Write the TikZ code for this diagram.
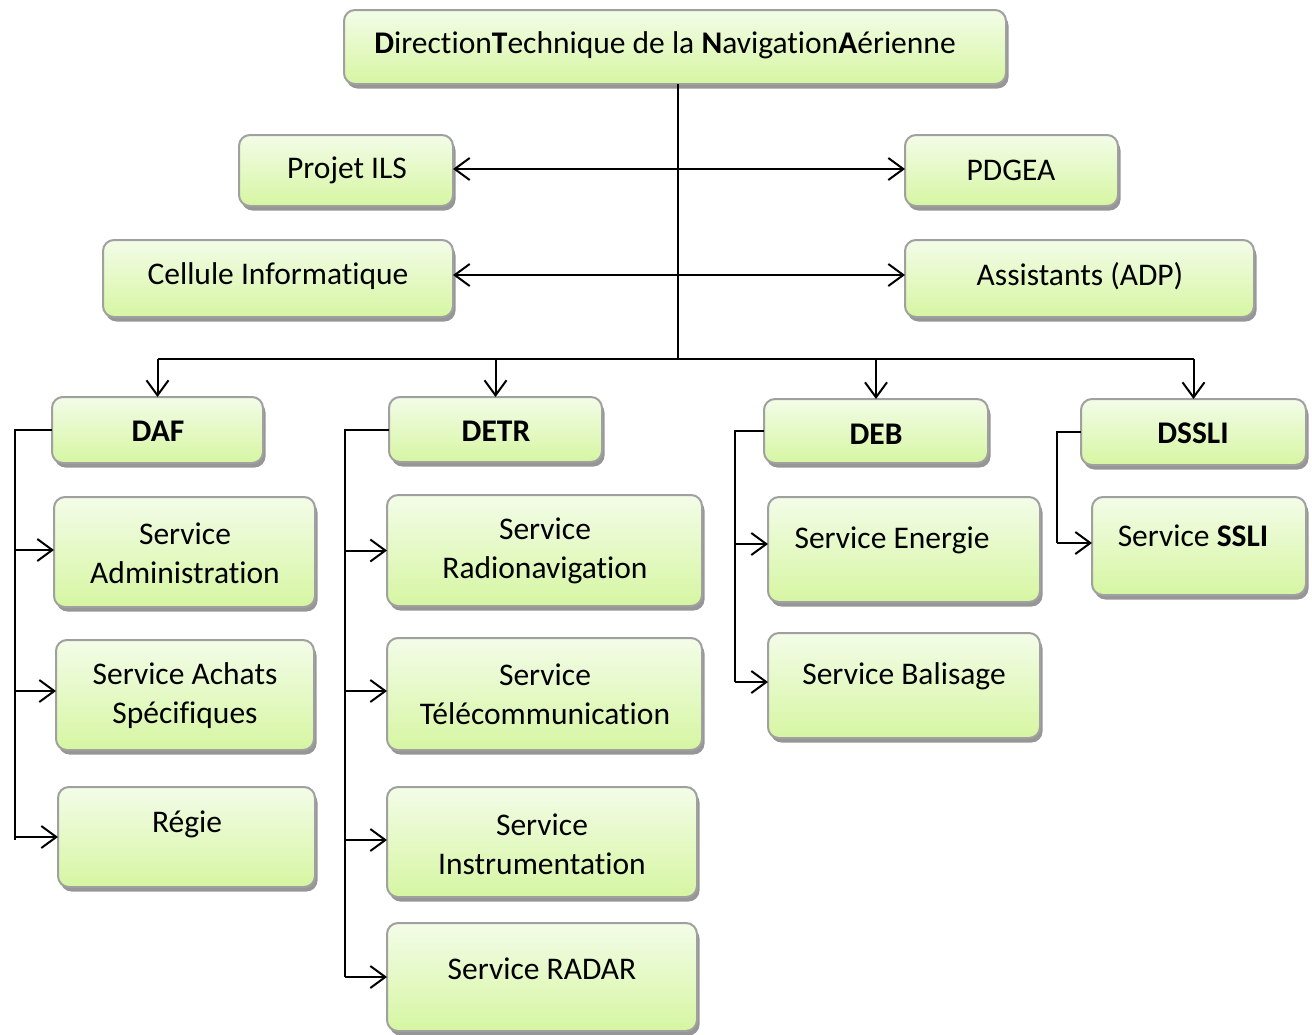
\documentclass[tikz,border=0pt]{standalone}
\usepackage{fontspec}
\setmainfont[Ligatures=NoCommon]{Carlito}
\usetikzlibrary{arrows.meta,shadows}

\definecolor{boxtop}{RGB}{243,252,232}
\definecolor{boxbot}{RGB}{214,246,162}
\definecolor{boxline}{RGB}{160,160,160}
\definecolor{boxshadow}{RGB}{150,150,150}

\begin{document}
\begin{tikzpicture}[x=1pt,y=-1pt,
  box/.style={draw=boxline, line width=2pt, rounded corners=11pt,
    top color=boxtop, bottom color=boxbot, anchor=north west,
    inner sep=0pt, outer sep=0pt,
    drop shadow={shadow xshift=2.5pt, shadow yshift=-4.5pt, fill=boxshadow, opacity=1}},
  lbl/.style={align=center, inner sep=0pt, font=\fontsize{31.5}{39}\selectfont},
  link/.style={line width=2pt, black},
  arr/.style={link, -{Straight Barb[length=15pt,width=22pt,line width=2pt]}},
  darr/.style={link, {Straight Barb[length=15pt,width=22pt,line width=2pt]}-{Straight Barb[length=15pt,width=22pt,line width=2pt]}}
]
\useasboundingbox (0,0) rectangle (1312,1034);

% ---- boxes ----
\node[box, minimum width=662pt, minimum height=74pt] (dtna) at (344,10) {};
\node[box, minimum width=214pt, minimum height=71pt] (ils) at (239,135) {};
\node[box, minimum width=213pt, minimum height=71pt] (pdgea) at (905,135) {};
\node[box, minimum width=350pt, minimum height=77pt] (cell) at (103,240) {};
\node[box, minimum width=349pt, minimum height=77pt] (adp) at (905,240) {};

\node[box, minimum width=211pt, minimum height=66pt] (daf) at (52,397) {};
\node[box, minimum width=213pt, minimum height=65pt] (detr) at (389,397) {};
\node[box, minimum width=224pt, minimum height=64pt] (deb) at (764,399) {};
\node[box, minimum width=225pt, minimum height=66pt] (dssli) at (1081,399) {};

\node[box, minimum width=261pt, minimum height=110pt] (adm) at (54,497) {};
\node[box, minimum width=258pt, minimum height=110pt] (ach) at (56,640) {};
\node[box, minimum width=257pt, minimum height=100pt] (reg) at (58,787) {};

\node[box, minimum width=315pt, minimum height=111pt] (rad) at (387,495) {};
\node[box, minimum width=315pt, minimum height=112pt] (tel) at (387,638) {};
\node[box, minimum width=310pt, minimum height=110pt] (ins) at (387,787) {};
\node[box, minimum width=310pt, minimum height=108pt] (radar) at (387,923) {};

\node[box, minimum width=272pt, minimum height=105pt] (ene) at (768,497) {};
\node[box, minimum width=272pt, minimum height=105pt] (bal) at (768,633) {};

\node[box, minimum width=214pt, minimum height=98pt] (sslib) at (1092,497) {};

% ---- texts ----
\node[lbl] (t-dtna) at (665,45) {\textbf{D}irection\textbf{T}echnique de la \textbf{N}avigation\textbf{A}érienne};
\node[lbl] (t-ils) at (347,170) {Projet ILS};
\node[lbl] (t-pdgea) at (1011,170) {PDGEA};
\node[lbl] (t-cell) at (278,276) {Cellule Informatique};
\node[lbl] (t-adp) at (1080,276) {Assistants (ADP)};

\node[lbl] (t-daf) at (158,431) {\textbf{DAF}};
\node[lbl] (t-detr) at (496,431) {\textbf{DETR}};
\node[lbl] (t-deb) at (876,434) {\textbf{DEB}};
\node[lbl] (t-dssli) at (1193,433) {\textbf{DSSLI}};

\node[lbl] (t-adm) at (185,553) {Service\\Administration};
\node[lbl] (t-ach) at (185,696) {Service Achats\\Spécifiques};
\node[lbl] (t-reg) at (187,824) {Régie};

\node[lbl] (t-rad) at (545,551) {Service\\Radionavigation};
\node[lbl] (t-tel) at (545,694) {Service\\Télécommunication};
\node[lbl] (t-ins) at (542,844) {Service\\Instrumentation};
\node[lbl] (t-radar) at (542,969) {Service RADAR};

\node[lbl] (t-ene) at (892,540) {Service Energie};
\node[lbl] (t-bal) at (904,676) {Service Balisage};
\node[lbl] (t-ssli) at (1193,536) {Service \textbf{SSLI}};

% ---- junction points ----
\coordinate (bus) at (678,359);
\coordinate (row1) at (678,169);
\coordinate (row2) at (678,275);
\coordinate (dafend) at (15,840);
\coordinate (detrend) at (345,977);
\coordinate (debend) at (735,682);
\coordinate (dsslend) at (1057,543);

% ---- connectors ----
\draw[link] (dtna.south -| bus) -- (bus);
\draw[darr] (ils.east |- row1) -- (pdgea.west |- row1);
\draw[darr] (cell.east |- row2) -- (adp.west |- row2);

\draw[link] (daf.north |- bus) -- (dssli.north |- bus);
\draw[arr] (daf.north |- bus) -- (daf.north);
\draw[arr] (detr.north |- bus) -- (detr.north);
\draw[arr] (deb.north |- bus) -- (deb.north);
\draw[arr] (dssli.north |- bus) -- (dssli.north);

\draw[link] (daf.west) -| (dafend);
\draw[arr] (dafend |- 0,550) -- (adm.west |- 0,550);
\draw[arr] (dafend |- 0,691) -- (ach.west |- 0,691);
\draw[arr] (dafend |- reg.west) -- (reg.west);

\draw[link] (detr.west) -| (detrend);
\draw[arr] (detrend |- rad.west) -- (rad.west);
\draw[arr] (detrend |- 0,691) -- (tel.west |- 0,691);
\draw[arr] (detrend |- 0,840) -- (ins.west |- 0,840);
\draw[arr] (detrend) -- (radar.west |- detrend);

\draw[link] (deb.west) -| (debend);
\draw[arr] (debend |- 0,544) -- (ene.west |- 0,544);
\draw[arr] (debend) -- (bal.west |- debend);

\draw[link] (dssli.west) -| (dsslend);
\draw[arr] (dsslend) -- (sslib.west |- dsslend);
\end{tikzpicture}
\end{document}
